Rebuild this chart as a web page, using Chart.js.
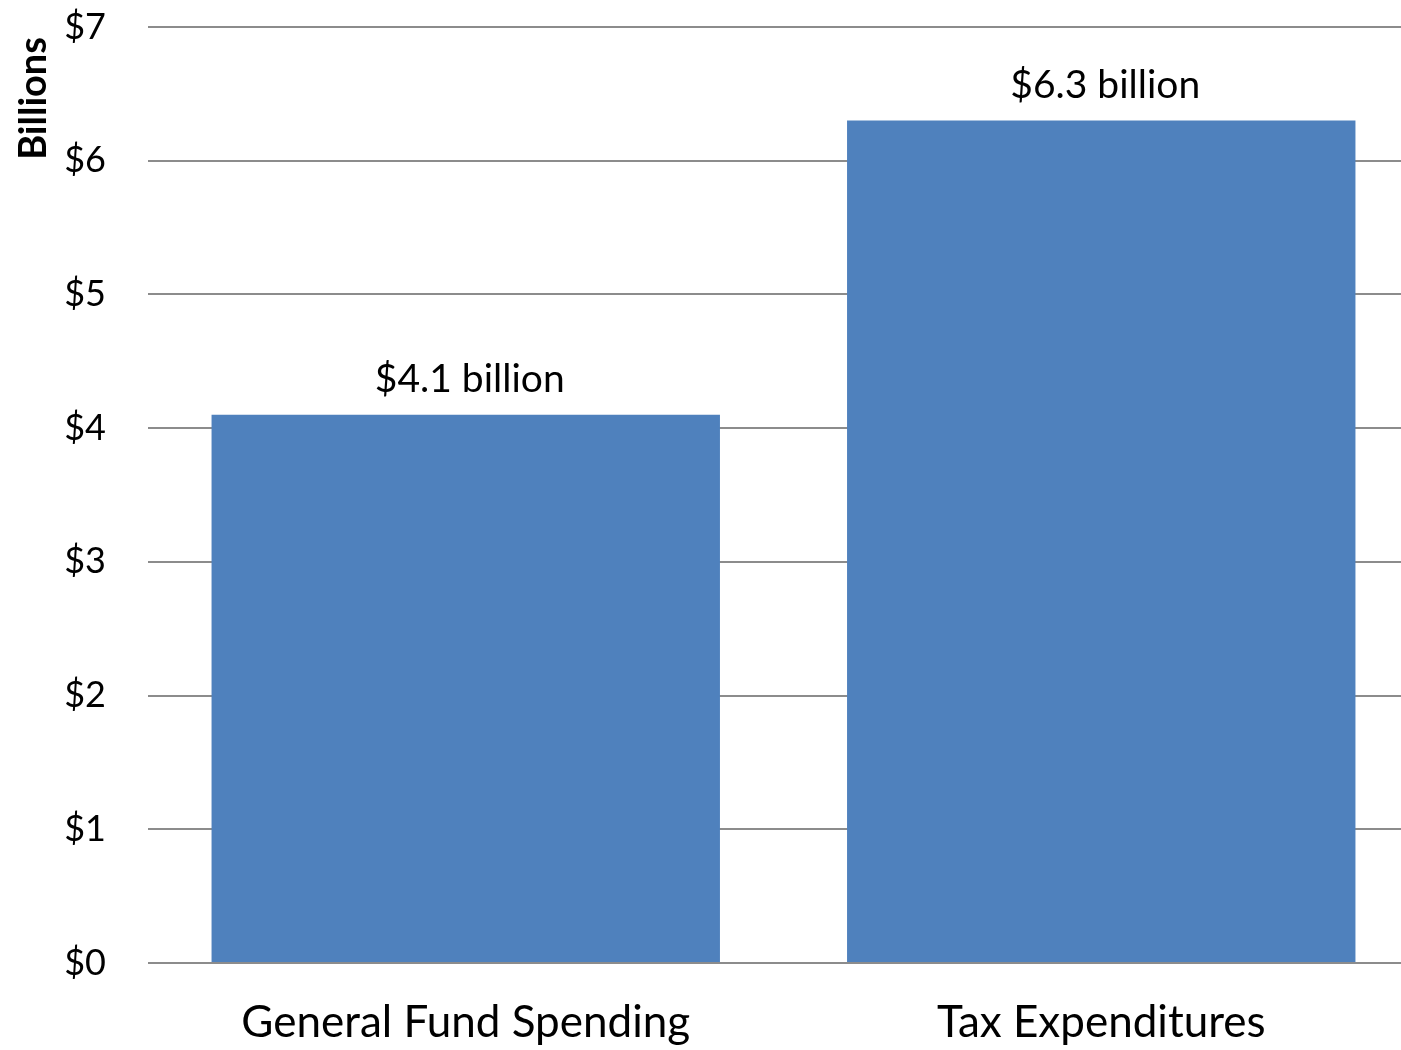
<!DOCTYPE html>
<html>
<head>
<meta charset="utf-8">
<script src="https://cdn.jsdelivr.net/npm/chart.js@4/dist/chart.umd.min.js"></script>
<style>
  html, body { margin: 0; padding: 0; background: #fff; overflow: hidden; }
  #wrap { width: 1419px; height: 1050px; }
</style>
</head>
<body>
<div id="wrap"><canvas id="budget"></canvas></div>
<script>
// spending vs. tax expenditures, in billions of dollars
var categories = ["General Fund Spending", "Tax Expenditures"];
var amounts = [4.1, 6.3];
var yTicks = [0, 1, 2, 3, 4, 5, 6, 7];
var unitTitle = "Billions";

var FONT = "Lato, 'Open Sans', sans-serif";

// writes "$x.x billion" above each bar
var barLabels = {
    id: 'barLabels',
    afterDatasetsDraw: function(chart) {
        var ctx = chart.ctx;
        var meta = chart.getDatasetMeta(0);
        ctx.save();
        ctx.font = "39px " + FONT;
        ctx.fillStyle = "#000";
        ctx.textAlign = "center";
        ctx.textBaseline = "alphabetic";
        meta.data.forEach(function(bar, i) {
            var v = chart.data.datasets[0].data[i];
            ctx.fillText("$" + v.toFixed(1) + " billion", bar.x + 4, bar.y - 23);
        });
        ctx.restore();
    }
};

// rotated unit title, hugging the top of the value axis
var unitLabel = {
    id: 'unitLabel',
    afterDraw: function(chart) {
        var ctx = chart.ctx;
        ctx.save();
        ctx.translate(46, chart.chartArea.top + 10);
        ctx.rotate(-Math.PI / 2);
        ctx.font = "bold 38px " + FONT;
        ctx.fillStyle = "#000";
        ctx.textAlign = "right";
        ctx.textBaseline = "alphabetic";
        ctx.fillText(unitTitle, 0, 0);
        ctx.restore();
    }
};

var ctx = document.getElementById("budget").getContext("2d");
var chart = new Chart(ctx, {
    type: 'bar',
    data: {
        labels: categories,
        datasets: [{
            data: amounts,
            backgroundColor: "#4f81bd",
            borderWidth: 0,
            categoryPercentage: 1.0,
            barPercentage: 0.8
        }]
    },
    options: {
        responsive: true,
        maintainAspectRatio: false,
        animation: false,
        layout: { padding: { top: 27, right: 0, left: 0, bottom: 0 } },
        plugins: {
            legend: { display: false },
            tooltip: { enabled: false }
        },
        scales: {
            x: {
                grid: { display: false, drawTicks: false },
                border: { display: false },
                ticks: {
                    color: "#000",
                    font: { family: FONT, size: 44 },
                    padding: 33
                },
                afterFit: function(scale) {
                    scale.height = 87;
                    scale.paddingLeft = 0;
                    scale.paddingRight = 0;
                }
            },
            y: {
                min: 0,
                max: 7,
                afterBuildTicks: function(scale) {
                    scale.ticks = yTicks.map(function(v) { return { value: v }; });
                },
                grid: { color: "#8c8c8c", lineWidth: 2, drawTicks: false },
                border: { display: false },
                ticks: {
                    color: "#000",
                    font: { family: FONT, size: 36 },
                    padding: 42,
                    callback: function(v) { return "$" + v; }
                },
                afterFit: function(scale) {
                    scale.width = 148;
                    scale.paddingTop = 0;
                    scale.paddingBottom = 0;
                }
            }
        }
    },
    plugins: [barLabels, unitLabel]
});
</script>
</body>
</html>
